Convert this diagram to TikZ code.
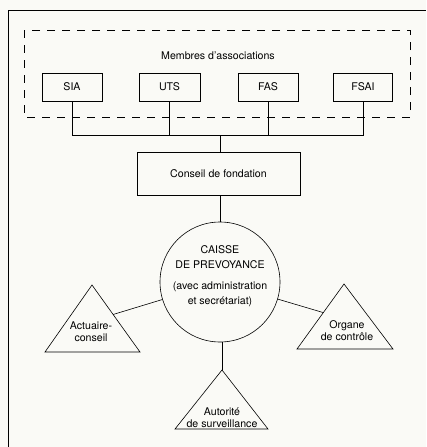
\documentclass[tikz,border=0pt]{standalone}
\usepackage{fontspec}
\setmainfont{TeX Gyre Heros}
\usetikzlibrary{calc}
\definecolor{paper}{RGB}{250,250,246}
\tikzset{
  box/.style={draw, line width=0.6pt, minimum height=28pt, inner sep=0pt},
  conn/.style={line width=0.6pt},
  tri/.style={draw, line width=0.6pt, line join=miter},
  txt/.style={align=center, inner sep=0pt, font=\fontsize{10.6}{12}\selectfont}
}
\begin{document}
\begin{tikzpicture}[x=1pt, y=-1pt, font=\fontsize{10.6}{12}\selectfont]
            \fill[paper] (0, 0) rectangle (426, 447);
            \useasboundingbox (0, 0) rectangle (426, 447);
            % outer frame
            \draw[line width=0.9pt] (8, 447) -- (8, 10) -- (426, 10);
            % members
            \draw[line width=0.7pt, dash pattern=on 8pt off 7pt] (24, 30) rectangle (410, 117);
            \node[txt] (membres) at (218, 56) {Membres d'associations};
            \node[box, minimum width=60pt] (sia) at (72, 87) {SIA};
            \node[box, minimum width=61pt] (uts) at (169.5, 87) {UTS};
            \node[box, minimum width=60pt] (fas) at (268, 87) {FAS};
            \node[box, minimum width=59pt] (fsai) at (363, 87) {FSAI};
            \coordinate (bus) at (220, 135);
            \draw[conn] (sia.south) |- (bus);
            \draw[conn] (fsai.south) |- (bus);
            \draw[conn] (uts.south) -- (uts.south |- bus);
            \draw[conn] (fas.south) -- (fas.south |- bus);
            % foundation
            \node[box, minimum width=163pt, minimum height=43pt] (conseil) at (218.5, 173.5) {Conseil de fondation};
            \draw[conn] (bus) -- (bus |- conseil.north);
            % pension fund
            \node[draw, circle, line width=0.6pt, minimum size=120pt] (caisse) at (220, 282) {};
            \node[txt, font=\fontsize{10.6}{15}\selectfont] (caisseTxt) at (220, 276.5)
              {CAISSE\\DE PREVOYANCE\\[6pt](avec administration\\et secrétariat)};
            \draw[conn] (conseil.south -| caisse) -- (caisse);
            % triangles
            \coordinate (actA) at (92, 285);
            \coordinate (actL) at (45, 352);
            \coordinate (actR) at (140, 352);
            \draw[tri] (actA) -- (actL) -- (actR) -- cycle;
            \node[txt] (actuaire) at (91, 332) {Actuaire-\\conseil};
            \coordinate (orgA) at (344, 284);
            \coordinate (orgL) at (297, 349);
            \coordinate (orgR) at (393, 349);
            \draw[tri] (orgA) -- (orgL) -- (orgR) -- cycle;
            \node[txt] (organe) at (347, 331) {Organe\\de contrôle};
            \coordinate (autA) at (222, 370);
            \coordinate (autL) at (175, 429);
            \coordinate (autR) at (268, 429);
            \draw[tri] (autA) -- (autL) -- (autR) -- cycle;
            \node[txt] (autorite) at (222, 418) {Autorité\\de surveillance};
            % links
            \coordinate (actE) at ($(actA)!0.44!(actR)$);
            \coordinate (orgE) at ($(orgA)!0.44!(orgL)$);
            \draw[conn] (caisse) -- (actE);
            \draw[conn] (caisse) -- (orgE);
            \draw[conn] (caisse.south -| autA) -- (autA);
        \end{tikzpicture}
\end{document}
